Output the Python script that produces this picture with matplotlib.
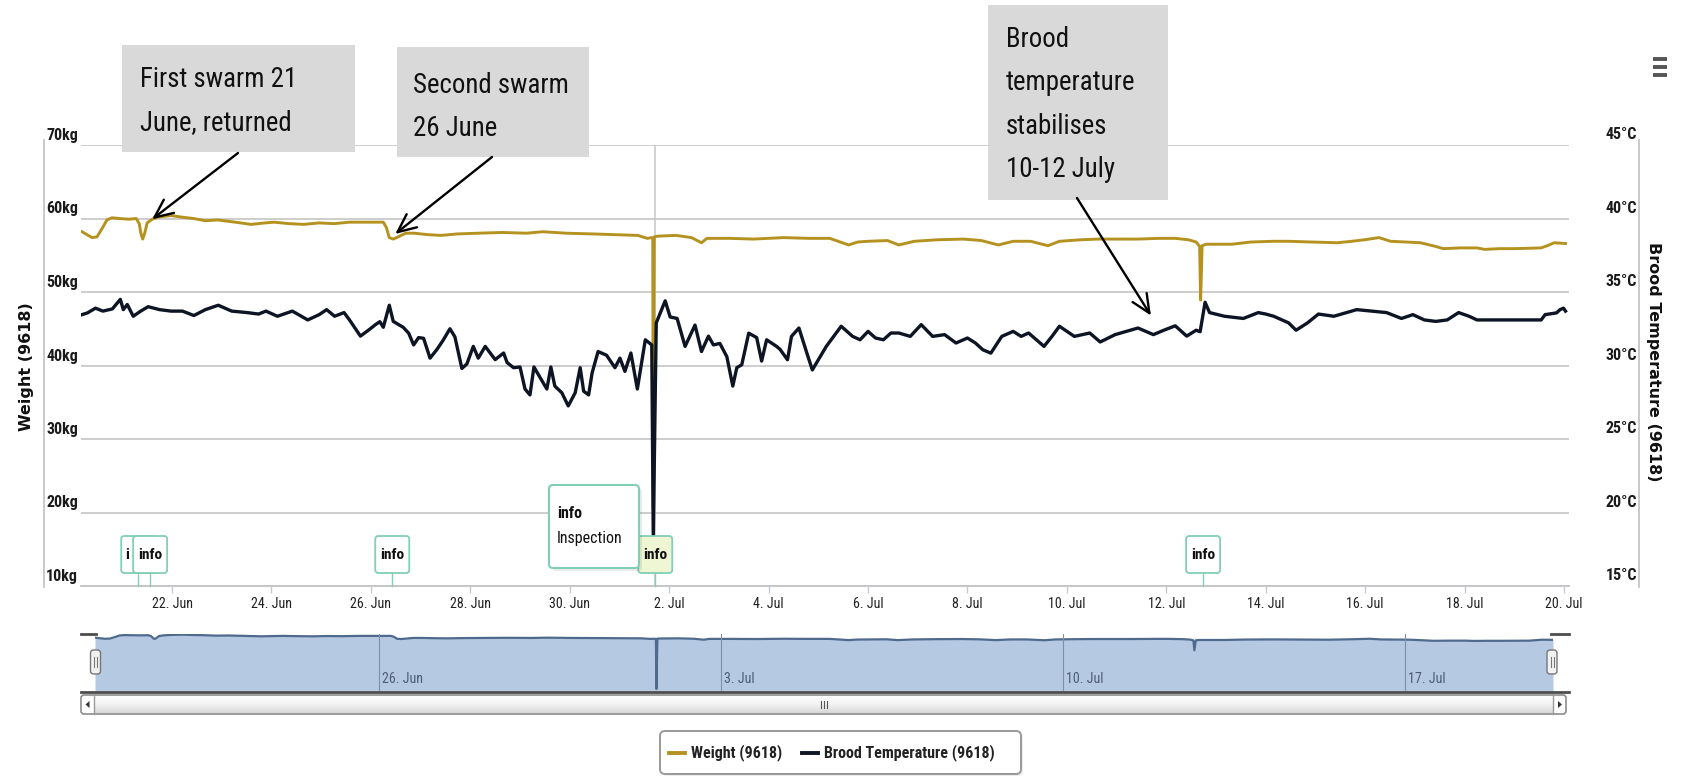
import numpy as np
import matplotlib
matplotlib.use("Agg")
import matplotlib.pyplot as plt
from matplotlib import font_manager as fm
from matplotlib.patches import FancyBboxPatch, Rectangle, Polygon

# ---------------- data (days counted from 20 June 00:00) ----------------
weight_day = [0.19, 0.29, 0.39, 0.49, 0.59, 0.69, 0.79, 0.94, 1.13, 1.28, 1.34, 1.38, 1.41, 1.45,
              1.50, 1.60, 1.73, 1.98, 2.18, 2.43, 2.67, 2.92, 3.27, 3.59, 3.87, 4.05, 4.36, 4.65,
              4.96, 5.26, 5.57, 5.95, 6.25, 6.31, 6.37, 6.45, 6.55, 6.70, 6.87, 7.15, 7.41, 7.74,
              8.16, 8.64, 9.13, 9.46, 9.93, 10.46, 10.92, 11.37, 11.56, 11.65, 11.67, 11.68, 11.70,
              11.77, 12.14, 12.45, 12.65, 12.76, 13.21, 13.69, 14.30, 14.80, 15.23, 15.61, 15.79,
              16.00, 16.39, 16.62, 16.93, 17.38, 17.92, 18.28, 18.62, 18.92, 19.27, 19.62, 19.85,
              20.26, 20.62, 21.06, 21.43, 21.85, 22.18, 22.45, 22.60, 22.67, 22.69, 22.72, 22.80,
              23.05, 23.32, 23.70, 24.14, 24.46, 24.93, 25.44, 25.73, 25.98, 26.28, 26.51, 26.82,
              27.11, 27.42, 27.57, 27.92, 28.25, 28.40, 28.71, 29.01, 29.54, 29.70, 29.80, 30.03]
weight_kg = [58.2, 57.8, 57.4, 57.5, 58.6, 59.8, 60.1, 60.0, 59.9, 60.0, 59.3, 57.8, 57.2, 58.0,
             59.4, 59.9, 60.2, 60.4, 60.2, 60.0, 59.7, 59.8, 59.5, 59.2, 59.4, 59.5, 59.3, 59.2,
             59.4, 59.3, 59.5, 59.5, 59.5, 58.8, 57.4, 57.2, 57.5, 58.0, 58.0, 57.8, 57.7, 57.9,
             58.0, 58.1, 58.0, 58.2, 58.0, 57.9, 57.8, 57.7, 57.3, 57.4, 57.2, 20.5, 57.5,
             57.6, 57.7, 57.4, 56.7, 57.3, 57.3, 57.2, 57.4, 57.3, 57.3, 56.4, 56.8,
             56.9, 57.0, 56.4, 56.9, 57.1, 57.2, 57.0, 56.4, 56.9, 56.9, 56.3, 56.9,
             57.1, 57.2, 57.2, 57.2, 57.3, 57.3, 57.1, 56.8, 56.2, 48.9, 56.3, 56.5,
             56.5, 56.5, 56.8, 56.9, 56.9, 56.8, 56.7, 56.9, 57.1, 57.4, 56.9, 56.8,
             56.7, 56.2, 55.9, 56.0, 56.0, 55.8, 55.9, 55.9, 56.0, 56.4, 56.7, 56.6]

temp_day = [0.19, 0.30, 0.46, 0.61, 0.80, 0.96, 1.02, 1.10, 1.22, 1.37, 1.52, 1.75, 1.98, 2.21,
            2.44, 2.67, 2.93, 3.20, 3.51, 3.74, 3.89, 4.12, 4.42, 4.73, 4.96, 5.11, 5.27, 5.46,
            5.57, 5.79, 5.95, 6.10, 6.18, 6.25, 6.37, 6.45, 6.65, 6.76, 6.86, 6.96, 7.06, 7.19,
            7.33, 7.45, 7.59, 7.69, 7.83, 7.93, 8.06, 8.16, 8.30, 8.50, 8.67, 8.74, 8.87, 9.00,
            9.10, 9.20, 9.28, 9.40, 9.54, 9.62, 9.70, 9.84, 9.97, 10.11, 10.21, 10.28, 10.38,
            10.45, 10.57, 10.74, 10.91, 11.01, 11.11, 11.23, 11.36, 11.52, 11.65, 11.68, 11.74,
            11.92, 12.02, 12.16, 12.32, 12.52, 12.65, 12.79, 12.89, 13.02, 13.16, 13.28, 13.36,
            13.46, 13.60, 13.76, 13.86, 13.96, 14.16, 14.23, 14.38, 14.46, 14.61, 14.77, 14.88,
            15.16, 15.31, 15.46, 15.69, 15.84, 16.00, 16.15, 16.31, 16.46, 16.62, 16.85, 17.07,
            17.30, 17.54, 17.77, 18.00, 18.16, 18.31, 18.47, 18.69, 18.92, 19.08, 19.23, 19.54,
            19.70, 19.85, 20.15, 20.46, 20.67, 20.97, 21.28, 21.43, 21.74, 21.95, 22.18, 22.41,
            22.60, 22.68, 22.78, 22.87, 23.17, 23.55, 23.85, 24.00, 24.16, 24.46, 24.61, 24.84,
            25.06, 25.37, 25.83, 26.13, 26.43, 26.73, 26.96, 27.19, 27.42, 27.65, 27.88, 28.09,
            28.25, 28.48, 29.54, 29.62, 29.85, 29.92, 29.99, 30.03]
temp_c = [33.46, 33.58, 33.9, 33.7, 33.85, 34.5, 33.8, 34.15, 33.35, 33.7, 34.0, 33.8, 33.7, 33.7,
          33.4, 33.8, 34.1, 33.7, 33.6, 33.5, 33.7, 33.35, 33.7, 33.1, 33.46, 33.8, 33.35, 33.6,
          33.1, 32.0, 32.4, 32.8, 32.98, 32.6, 34.1, 33.0, 32.6, 32.2, 31.4, 31.9, 31.85, 30.5,
          31.1, 31.7, 32.5, 31.95, 29.8, 30.1, 31.3, 30.5, 31.3, 30.4, 30.85, 30.2, 29.85, 29.9,
          28.4, 28.0, 29.9, 29.2, 28.4, 29.9, 28.6, 28.15, 27.25, 28.15, 29.85, 28.25, 28.0,
          29.5, 30.95, 30.7, 29.85, 30.5, 29.6, 30.85, 28.4, 31.75, 31.4, 18.2, 32.9,
          34.4, 33.3, 33.2, 31.3, 32.75, 30.95, 32.0, 31.4, 31.5, 30.6, 28.6, 29.85,
          30.05, 32.2, 31.9, 30.3, 31.75, 31.3, 31.1, 30.39, 31.98, 32.55, 30.84, 29.7,
          31.3, 31.98, 32.67, 31.98, 31.75, 32.32, 31.87, 31.75, 32.21, 32.21, 31.98, 32.78,
          31.98, 32.1, 31.53, 31.87, 31.53, 31.07, 30.84, 31.98, 32.32, 31.98, 32.21, 31.3,
          31.98, 32.67, 31.98, 32.21, 31.6, 32.1, 32.4, 32.55, 32.1, 32.4, 32.7, 32.0,
          32.4, 32.3, 34.3, 33.6, 33.35, 33.2, 33.6, 33.5, 33.35, 32.9, 32.4, 32.9,
          33.5, 33.35, 33.8, 33.7, 33.6, 33.2, 33.46, 33.1, 33.0, 33.1, 33.6, 33.35,
          33.1, 33.1, 33.1, 33.46, 33.58, 33.8, 33.9, 33.7]

x_tick_days = [2, 4, 6, 8, 10, 12, 14, 16, 18, 20, 22, 24, 26, 28, 30]
x_tick_labels = ["22. Jun", "24. Jun", "26. Jun", "28. Jun", "30. Jun", "2. Jul", "4. Jul",
                 "6. Jul", "8. Jul", "10. Jul", "12. Jul", "14. Jul", "16. Jul", "18. Jul", "20. Jul"]
weight_ticks = [10, 20, 30, 40, 50, 60, 70]
temp_ticks = [15, 20, 25, 30, 35, 40, 45]
nav_tick_days = [6, 13, 20, 27]
nav_tick_labels = ["26. Jun", "3. Jul", "10. Jul", "17. Jul"]
flag_days = [1.32, 1.56, 6.43, 11.72, 22.74]
flag_labels = ["info", "info", "info", "info", "info"]
inspection_day = 11.72
note_texts = ["First swarm 21\nJune, returned", "Second swarm\n26 June",
              "Brood\ntemperature\nstabilises\n10-12 July"]

# ---------------- fonts ----------------
_entries = fm.fontManager.ttflist
_names = {f.name for f in _entries}
STRETCH = "normal"
if "Liberation Sans Narrow" in _names:
    COND, FS = "Liberation Sans Narrow", 1.0
elif "Roboto Condensed" in _names:
    COND, FS = "Roboto Condensed", 0.92
elif any(f.name == "DejaVu Sans" and str(f.stretch) in ("condensed", "semi-condensed") for f in _entries):
    COND, FS, STRETCH = "DejaVu Sans", 0.85, "condensed"
else:
    COND, FS = "Lato", 0.88


def cf(size, weight="normal"):
    return dict(family=COND, fontstretch=STRETCH, fontsize=size * FS, fontweight=weight)


GOLD = "#b5921f"
DARK = "#0d1424"
GRID = "#c9c9c9"

W, H = 1691, 779
fig = plt.figure(figsize=(W / 100, H / 100), dpi=100)
fig.patch.set_facecolor("white")


def frac_rect(x0, y0, x1, y1):
    return [x0 / W, 1 - y1 / H, (x1 - x0) / W, (y1 - y0) / H]


# ---------------- main chart ----------------
ax = fig.add_axes(frac_rect(81, 145, 1569, 586))
ax.set_xlim(0.169, 30.10)
ax.set_ylim(10, 70)
ax.axvline(inspection_day, color="#c6c6c6", lw=1.1, zorder=0.8)
ax.plot(weight_day, weight_kg, color=GOLD, lw=2.1, solid_joinstyle="round", zorder=2)
ax.set_yticks(weight_ticks)
ax.set_yticklabels([])
ax.grid(axis="y", color=GRID, lw=1.3)
ax.set_axisbelow(True)
ax.set_xticks(x_tick_days)
ax.set_xticklabels(x_tick_labels, color="#222222", **cf(11))
ax.tick_params(axis="x", length=5, width=1, color="#c0cbd6", pad=3)
ax.tick_params(axis="y", length=0)
for s in ["top", "left", "right"]:
    ax.spines[s].set_visible(False)
ax.spines["bottom"].set_color("#c4c4c4")
ax.spines["bottom"].set_linewidth(1.3)

for v in weight_ticks:
    ax.annotate(f"{v}kg", xy=(0, v), xycoords=("axes fraction", "data"), xytext=(-3, 2),
                textcoords="offset pixels", ha="right", va="bottom", color="#1a1a1a",
                **cf(12.5, "bold"))

ax2 = ax.twinx()
ax2.set_ylim(15, 45)
ax2.plot(temp_day, temp_c, color=DARK, lw=2.4, solid_joinstyle="round", zorder=3)
for s in ax2.spines.values():
    s.set_visible(False)
ax2.set_yticks([])
for v in temp_ticks:
    ax2.annotate(f"{v}°C", xy=(1, v), xycoords=("axes fraction", "data"), xytext=(1637 - 1569, 3),
                 textcoords="offset pixels", ha="right", va="bottom", color="#1a1a1a",
                 **cf(12.5, "bold"))

fig.text(27 / W, 1 - 367 / H, "Weight (9618)", rotation=90, ha="center", va="center",
         fontsize=11.5, fontweight="bold", color="#111111", family="DejaVu Sans")
fig.text(1654 / W, 1 - 362 / H, "Brood Temperature (9618)", rotation=270, ha="center", va="center",
         fontsize=11.5, fontweight="bold", color="#111111", family="DejaVu Sans")

# ---------------- navigator ----------------
nav = fig.add_axes(frac_rect(95, 634, 1553, 691))
nav_lo = min(weight_kg) - 1.5
nav.fill_between(weight_day, weight_kg, nav_lo, color="#b6c9e3", lw=0)
nav.plot(weight_day, weight_kg, color="#4f6a8c", lw=1.6)
nav.set_xlim(weight_day[0], weight_day[-1])
nav.set_ylim(nav_lo, max(weight_kg) + 0.5)
nav.set_axis_off()
for d, lab in zip(nav_tick_days, nav_tick_labels):
    nav.axvline(d, color="#7f8fa6", lw=0.8)
    nav.annotate(lab, xy=(d, 0), xycoords=("data", "axes fraction"), xytext=(3, 5),
                 textcoords="offset pixels", ha="left", va="bottom", color="#4d5d75", **cf(11))

# ---------------- overlay (pixel coordinates, y down) ----------------
ov = fig.add_axes([0, 0, 1, 1])
ov.set_zorder(10)
ov.patch.set_alpha(0)
ov.set_xlim(0, W)
ov.set_ylim(H, 0)
ov.set_axis_off()


def to_px(axis, x, y):
    X, Y = axis.transData.transform((x, y))
    return X, H - Y


# axis lines
ov.plot([44, 44], [140, 587], color="#c0c0c0", lw=1.2)
ov.plot([1639, 1639], [140, 587], color="#c0c0c0", lw=1.2)

# hamburger menu
for yy in (59, 67, 75):
    ov.plot([1653, 1667], [yy, yy], color="#555555", lw=2.8, solid_capstyle="butt")

# flags (a flag partly hidden by the next one only shows its first letter)
for i, (d, lab) in enumerate(zip(flag_days, flag_labels)):
    cx = to_px(ax, d, 10)[0]
    hovered = abs(d - inspection_day) < 0.01
    covered = i + 1 < len(flag_days) and (flag_days[i + 1] - d) < 0.3
    ov.plot([cx, cx], [573, 586], color="#82cfb6", lw=1, zorder=3 + i)
    ov.add_patch(FancyBboxPatch((cx - 17, 536), 34, 37, boxstyle="round,pad=0,rounding_size=3",
                                fc="#eef6d4" if hovered else "white", ec="#82cfb6", lw=1.3,
                                zorder=3 + i))
    if covered:
        ov.text(cx - 13, 555, lab[0], ha="left", va="center", color="#111111", zorder=3 + i,
                **cf(12, "bold"))
    else:
        ov.text(cx, 555, lab, ha="center", va="center", color="#111111", zorder=3 + i,
                **cf(12, "bold"))

# tooltip
ov.add_patch(FancyBboxPatch((552, 488), 90, 83, boxstyle="round,pad=0,rounding_size=4",
                            fc="#000000", ec="none", alpha=0.08, zorder=20))
ov.add_patch(FancyBboxPatch((549, 485), 90, 83, boxstyle="round,pad=0,rounding_size=4",
                            fc="white", ec="#7fcfb5", lw=1.5, zorder=21))
ov.text(557, 513, "info", ha="left", va="center", color="#111111", zorder=22, **cf(12.5, "bold"))
ov.text(557, 538, "Inspection", ha="left", va="center", color="#111111", zorder=22, **cf(12.5))

# annotation boxes with arrows
note_boxes = [(122, 45, 355, 152), (397, 47, 589, 157), (988, 5, 1168, 200)]
note_text_pos = [(140, 87), (413, 93), (1006, 47)]
arrow_start = [(238, 153), (492, 157), (1077, 198)]
arrow_tip = [to_px(ax, 1.60, 59.9), to_px(ax, 6.49, 57.9), to_px(ax2, 21.69, 33.4)]
for txt, (x0, y0, x1, y1), (tx, ty), st, tip in zip(note_texts, note_boxes, note_text_pos,
                                                     arrow_start, arrow_tip):
    ov.add_patch(Rectangle((x0, y0), x1 - x0, y1 - y0, fc="#d9d9d9", ec="none", zorder=30))
    for k, line in enumerate(txt.split("\n")):
        ov.text(tx, ty + 43.3 * k, line, ha="left", va="baseline", color="#111111", zorder=31,
                **cf(21))
    ov.annotate("", xy=tip, xytext=st, xycoords="data", textcoords="data",
                arrowprops=dict(arrowstyle="->,head_length=1.1,head_width=0.5", lw=1.7,
                                color="black", shrinkA=0, shrinkB=0, mutation_scale=12),
                zorder=32)

# navigator chrome
ov.plot([81, 96], [634, 634], color="#4d4d4d", lw=2)
ov.plot([1551, 1569], [634, 634], color="#4d4d4d", lw=2)
ov.plot([81, 1569], [692, 692], color="#4d4d4d", lw=2)
for hx in (95.5, 1552):
    ov.add_patch(FancyBboxPatch((hx - 5, 650), 10, 24, boxstyle="round,pad=0,rounding_size=3",
                                fc="#f2f2f2", ec="#777777", lw=1, zorder=5))
    ov.plot([hx - 1.5, hx - 1.5], [657, 667], color="#777777", lw=0.8, zorder=6)
    ov.plot([hx + 1.5, hx + 1.5], [657, 667], color="#777777", lw=0.8, zorder=6)

# scrollbar
grad = np.linspace(0, 1, 20).reshape(-1, 1)
ov.imshow(grad, cmap=matplotlib.colors.LinearSegmentedColormap.from_list(
    "sb", ["#ffffff", "#f2f2f2", "#d6d6d6"]), extent=(94, 1553, 714, 695), aspect="auto",
    zorder=4)
ov.add_patch(FancyBboxPatch((81, 695), 1485, 19, boxstyle="round,pad=0,rounding_size=3",
                            fc="none", ec="#8c8c8c", lw=1.2, zorder=5))
ov.plot([94, 94], [695, 714], color="#9a9a9a", lw=1, zorder=5)
ov.plot([1553, 1553], [695, 714], color="#9a9a9a", lw=1, zorder=5)
ov.add_patch(Polygon([[89.5, 701], [89.5, 708], [85.5, 704.5]], closed=True, fc="#333333",
                     ec="none", zorder=6))
ov.add_patch(Polygon([[1558, 701], [1558, 708], [1562, 704.5]], closed=True, fc="#333333",
                     ec="none", zorder=6))
for gx in (820.5, 823.5, 826.5):
    ov.plot([gx, gx], [701, 708], color="#555555", lw=0.8, zorder=6)
ov.set_xlim(0, W)
ov.set_ylim(H, 0)

# legend
ov.add_patch(FancyBboxPatch((662, 733), 361, 43, boxstyle="round,pad=0,rounding_size=5",
                            fc="#000000", ec="none", alpha=0.07, zorder=5))
ov.add_patch(FancyBboxPatch((660, 731), 361, 43, boxstyle="round,pad=0,rounding_size=5",
                            fc="white", ec="#9a9a9a", lw=1.4, zorder=6))
ov.plot([669, 685], [753, 753], color=GOLD, lw=2.8, zorder=7)
ov.text(691, 753, "Weight (9618)", ha="left", va="center", color="#222222", zorder=7,
        **cf(12.5, "bold"))
ov.plot([802, 818], [753, 753], color=DARK, lw=2.8, zorder=7)
ov.text(824, 753, "Brood Temperature (9618)", ha="left", va="center", color="#222222", zorder=7,
        **cf(12.5, "bold"))

fig.savefig("out.png", dpi=100, facecolor="white")
